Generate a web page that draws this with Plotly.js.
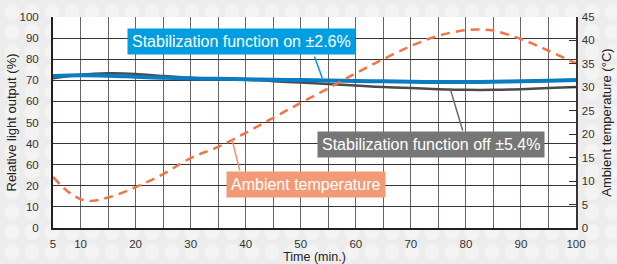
<!DOCTYPE html>
<html>
<head>
<meta charset="utf-8">
<script src="https://cdn.plot.ly/plotly-3.0.1.min.js"></script>
<style>
html,body{margin:0;padding:0;}
body{width:617px;height:264px;background-color:#ececec;
background-image:radial-gradient(circle, #f3f3f3 0px, #f3f3f3 7px, rgba(0,0,0,0) 8px);
background-size:20px 20px;background-position:2px 2px;}
#chart{width:617px;height:264px;}
</style>
</head>
<body>
<div id="chart"></div>
<script>
// Time (min.)
const timeMin = [5,10,15,20,25,30,35,40,45,50,55,60,65,70,75,80,85,90,95,100];
// Relative light output (%) with stabilization on
const outputOn = [72,72.4,72.2,71.7,71.2,70.9,70.7,70.5,70.3,70.1,69.9,69.7,69.5,69.3,69.2,69.2,69.3,69.5,69.8,70.2];
// Relative light output (%) with stabilization off
const outputOff = [71,72.6,73.3,73.0,72.0,71.2,70.7,70.3,69.6,68.9,68.2,67.5,66.8,66.3,65.8,65.5,65.5,65.8,66.3,66.8];
// Ambient temperature (°C)
const tempTime = [5,8,11,15,20,25,30,35,40,45,50,55,60,65,70,75,80,83,85,90,95,100];
const tempC = [10.9,7.5,5.8,6.5,8.7,11.5,14.9,17.3,20.3,23.5,26.7,29.8,33,36,38.8,41,42.2,42.3,42.1,40.3,37.8,35.1];
// Tick labels
const xTickVals = [5,10,15,20,25,30,35,40,45,50,55,60,65,70,75,80,85,90,95,100];
const xTickText = ['5','10','','20','','30','','40','','50','','60','','70','','80','','90','','100'];
const yTickVals = [0,10,20,30,40,50,60,70,80,90,100];
const yTickText = ['0','10','20','60','40','50','60','70','80','90','100'];
const y2TickVals = [0,5,10,15,20,25,30,35,40,45];

const font = 'Liberation Sans, Arial, sans-serif';

const traces = [
  {x: timeMin, y: outputOff, type:'scatter', mode:'lines', line:{color:'#4a4a4a', width:2.5, shape:'spline'}, hoverinfo:'skip'},
  {x: timeMin, y: outputOn, type:'scatter', mode:'lines', line:{color:'#0a7cc4', width:4, shape:'spline'}, hoverinfo:'skip'},
  {x: tempTime, y: tempC, yaxis:'y2', type:'scatter', mode:'lines', line:{color:'#f07444', width:2.5, dash:'9px,6px', shape:'spline'}, hoverinfo:'skip'}
];

const boxFont = {family: font, size: 16, color: '#ffffff'};
const layout = {
  width: 617, height: 264,
  margin: {l:53, r:41, t:17, b:36},
  paper_bgcolor: 'rgba(0,0,0,0)',
  plot_bgcolor: '#ffffff',
  showlegend: false,
  font: {family: font, size: 11.5, color: '#333'},
  xaxis: {
    range: [5,100], tickmode:'array', tickvals: xTickVals, ticktext: xTickText,
    showgrid: true, gridcolor:'#6b6363', gridwidth:1,
    showline: true, linecolor:'#231f1f', linewidth:2,
    ticks:'', ticklabelstandoff: 4, zeroline:false,
    tickfont:{family:font, size:11.5, color:'#333'},
    title:{text:'Time (min.)', font:{family:font, size:12.5, color:'#222'}, standoff:3}
  },
  yaxis: {
    range: [0,100], tickmode:'array', tickvals: yTickVals, ticktext: yTickText,
    showgrid: true, gridcolor:'#3b3333', gridwidth:1,
    showline: true, linecolor:'#231f1f', linewidth:2,
    ticks:'', ticklabelstandoff: 10, zeroline:false,
    tickfont:{family:font, size:11.5, color:'#333'},
    title:{text:'Relative light output (%)', font:{family:font, size:13, color:'#222'}, standoff:0}
  },
  yaxis2: {
    range: [0,45], overlaying:'y', side:'right', tickmode:'array', tickvals: y2TickVals,
    showgrid:false, zeroline:false,
    showline:true, linecolor:'#3b3333', linewidth:1.5,
    ticks:'inside', ticklen:7, tickcolor:'#333', tickwidth:1,
    ticklabelstandoff: 2,
    tickfont:{family:font, size:11.5, color:'#333'},
    title:{text:'Ambient temperature (°C)', font:{family:font, size:13, color:'#222'}, standoff:8}
  },
  annotations: [
    // leader lines
    {x:53.9, y:71.1, xref:'x', yref:'y', axref:'x', ayref:'y', ax:52.4, ay:82.0, text:'', showarrow:true, arrowhead:0, arrowwidth:1.5, arrowcolor:'#0096dc'},
    {x:77.1, y:66.4, xref:'x', yref:'y', axref:'x', ayref:'y', ax:79.5, ay:45.5, text:'', showarrow:true, arrowhead:0, arrowwidth:1.5, arrowcolor:'#6a6a6a'},
    {x:37.5, y:42.2, xref:'x', yref:'y', axref:'x', ayref:'y', ax:39.0, ay:26.5, text:'', showarrow:true, arrowhead:0, arrowwidth:1.5, arrowcolor:'#f0906a'},
    // boxes
    {x:39.3, y:88.2, xref:'x', yref:'y', text:'Stabilization function on ±2.6%', showarrow:false,
     bgcolor:'#009ee0', borderpad:4, font:boxFont, xanchor:'center', yanchor:'middle'},
    {x:73.7, y:39.8, xref:'x', yref:'y', text:'Stabilization function off ±5.4%', showarrow:false,
     bgcolor:'#767676', borderpad:4, font:boxFont, xanchor:'center', yanchor:'middle'},
    {x:51.0, y:20.4, xref:'x', yref:'y', text:'Ambient temperature', showarrow:false,
     bgcolor:'#f29a76', borderpad:4, font:boxFont, xanchor:'center', yanchor:'middle'}
  ]
};

Plotly.newPlot('chart', traces, layout, {staticPlot:true, displayModeBar:false});
</script>
</body>
</html>
